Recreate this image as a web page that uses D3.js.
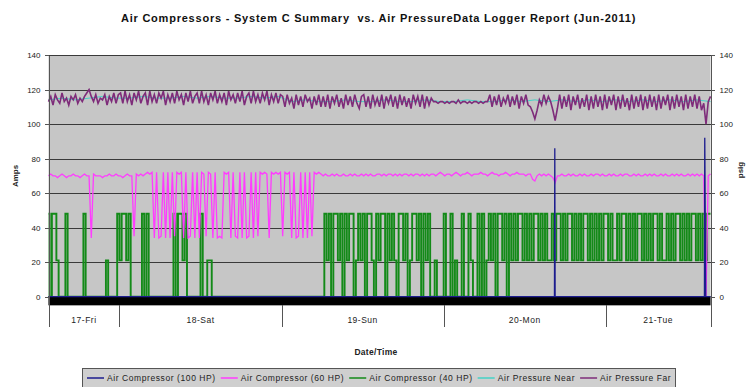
<!DOCTYPE html>
<html>
<head>
<meta charset="utf-8">
<script src="https://cdn.jsdelivr.net/npm/d3@7"></script>
<style>
  body { margin: 0; background: #fff; }
  svg { display: block; font-family: "Liberation Sans", Arial, sans-serif; }
</style>
</head>
<body>
<svg id="chart" width="747" height="387"></svg>
<script>
// ---- data ----
const chartTitle = 'Air Compressors - System C Summary  vs. Air PressureData Logger Report (Jun-2011)';
const seriesNames = ['Air Compressor (100 HP)', 'Air Compressor (60 HP)', 'Air Compressor (40 HP)', 'Air Pressure Near', 'Air Pressure Far'];
const seriesColors = ['#1c1c8e', '#ff3cff', '#138a18', '#45d2c6', '#7e2c7a'];
const yTicks = [0, 20, 40, 60, 80, 100, 120, 140];
const dayLabels = ['17-Fri', '18-Sat', '19-Sun', '20-Mon', '21-Tue'];
const dayBreaks = [new Date(2011, 5, 17, 13, 30), new Date(2011, 5, 18), new Date(2011, 5, 19),
  new Date(2011, 5, 20), new Date(2011, 5, 21), new Date(2011, 5, 21, 15, 30)];
const startTime = dayBreaks[0];
const endTime = dayBreaks[dayBreaks.length - 1];

// 100 HP: mostly off, two spikes (hours after start)
const hp100Hours = [0, 74.9, 74.95, 75.0, 97.1, 97.15, 97.3, 98];
const hp100Amps = [0, 0, 86, 0, 0, 92, 0, 0];

// 60 HP, every 20 min
const hp60Amps = [70, 71, 70, 70, 69, 70, 71, 70, 69, 70, 70, 71, 70, 70, 69, 70, 71, 70, 70,
  34,
  71, 70, 70, 70, 69, 70, 70, 71, 70, 70, 71, 70, 70, 69, 70, 71, 70, 70,
  35,
  71, 70, 71, 70, 71, 72, 71, 72,
  34, 72, 34, 35, 72, 34, 72, 34, 72, 35, 72, 71, 72, 34, 72, 34, 35, 72, 34, 72, 34, 72, 71, 35,
  72, 71, 34, 72, 34, 35, 34, 72, 71, 72, 34, 72, 35, 34, 72, 34, 72, 34, 35, 72, 34, 72, 35, 72,
  71, 72, 71, 34, 72, 71, 72, 71, 72, 35, 72, 71, 72, 34, 72, 34, 35, 72, 34, 72, 34, 72, 35, 72,
  71, 72,
  71, 70, 71, 70, 70, 71, 70, 71, 70, 70, 71, 70, 70, 71, 70, 71, 70, 70, 71, 70,
  71, 70, 71, 70, 70, 71, 71, 70, 71, 70, 71, 71, 70, 71, 70, 71, 70, 71, 71, 70,
  71, 70, 71, 71, 70, 71, 70, 71, 70, 71, 71, 70, 71, 72, 71, 70, 71, 71, 70, 71,
  72, 71, 70, 71, 71, 72, 71, 70, 71, 71, 71, 72, 71, 71, 70, 71, 72, 71, 71, 70,
  71, 71, 72, 71, 70, 71, 71, 72, 71, 71, 71, 70, 71, 71,
  68, 67, 70,
  71, 70, 71, 70, 71, 70,
  69, 66, 70,
  70, 71, 70, 70, 71, 70, 71, 70, 70, 71, 70, 71, 70, 70, 71, 70, 71, 71, 70, 71,
  70, 70, 71, 70, 71, 70, 70, 71, 70, 71, 71, 70, 70, 71, 70, 71, 70, 70, 71, 70,
  71, 70, 71, 70, 70, 71, 70, 71, 70, 70, 71, 70, 71, 70, 71, 70, 70, 71, 70, 71,
  70, 71, 70, 71,
  70, 0, 70, 71];

// 40 HP, every 20 min (0 = off, 21 = unloaded, 48 = loaded)
const hp40Amps = [48, 0, 48, 48, 21, 0,
  0, 0,
  48,
  0, 0, 0, 0, 0, 0, 0,
  48,
  0, 0, 0, 0, 0, 0, 0, 0, 0,
  21,
  0, 0, 0, 0,
  48, 21, 48, 48, 21, 48,
  0, 0, 0, 0, 0,
  48, 0, 48,
  0, 0, 0, 0, 0, 0, 0, 0, 0, 0, 0,
  48, 0, 48, 48, 21, 48, 0,
  0, 0, 0, 0, 0,
  48,
  0, 0, 21, 21, 0, 0,
  0, 0, 0, 0, 0, 0, 0, 0, 0, 0, 0, 0, 0, 0, 0, 0, 0, 0, 0, 0, 0, 0, 0, 0,
  0, 0, 0, 0, 0, 0, 0, 0, 0, 0, 0, 0, 0, 0, 0, 0, 0, 0, 0, 0, 0, 0, 0, 0,
  48, 21, 48, 0, 48, 48, 21, 48, 0, 48, 21, 48, 48, 0, 21, 48, 21, 48, 0, 48, 48, 21, 0, 48,
  21, 48, 48, 0, 48, 21, 48, 21, 0, 48, 48, 21, 48, 0, 21, 48, 48, 21, 48, 0, 48, 21, 48, 0,
  0, 21, 0, 0, 0,
  48, 0, 0, 48, 0, 21, 0, 0, 48, 0, 0, 48, 21, 0, 0, 48, 0, 48, 0, 21,
  48, 21, 48, 0, 48, 48, 21, 48, 0, 48, 21,
  48, 21, 48, 48, 21, 48, 21, 48, 21, 48, 48, 21, 48, 21, 48, 21, 21, 48, 21, 48,
  48, 21, 48, 21, 48, 48, 21, 48, 21, 48, 21, 48, 48, 21, 48, 21, 48, 21, 48, 21,
  48, 48, 21, 48, 21, 21, 48, 21, 48, 48, 21, 48, 21, 48, 21, 48, 48, 21, 48, 21,
  48, 21, 48, 48, 21, 48, 21, 21, 48, 21, 48, 21, 48, 48, 21, 48, 21, 48, 21, 48,
  48, 21, 48, 21, 48, 21, 48, 48];

// pressure near, every 2 h (psig)
const pressNear = [114, 115, 114, 115, 116, 115,
  115, 116, 115, 115, 116, 115, 116, 115, 115, 116, 115, 116,
  113, 114, 113, 113, 114, 113, 113, 114, 113, 113, 114, 113,
  113, 114, 113, 113, 114,
  113, 114, 113, 114, 113, 114, 113, 114,
  113, 114, 113, 114, 113, 114, 113];

// pressure far, every 20 min (psig)
const pressFar = [113, 116, 111, 117, 114, 112, 118, 113, 115, 111, 116, 114, 117, 112, 115, 113, 116, 118, 120, 116,
  113, 117, 112, 115, 114, 117, 111, 116, 113, 118, 112, 117,
  118, 112, 119, 113, 117, 111, 118, 114, 119, 112, 116, 118, 111, 119, 113, 117, 112, 118, 115, 119,
  111, 117, 113, 118, 112, 119, 114, 117, 111, 118, 113, 119, 112, 116, 118, 112, 119, 113, 117, 111,
  118, 114, 119, 112, 117, 113, 118, 111, 119, 114, 117, 112, 118, 113, 119, 111, 116, 118, 112, 119,
  113, 117, 112, 118, 114, 119, 111, 117, 113, 118, 112, 117,
  116, 110, 117, 112, 115, 109, 117, 111, 116, 110, 117, 113, 115, 109, 116, 111, 117, 110, 116,
  110, 117, 109, 116, 112, 117, 110, 115, 109, 117, 111, 116, 110, 117, 112, 109, 116, 117, 110, 116,
  109, 117, 111, 115, 110, 117, 109, 116, 112, 117, 110, 116, 109, 117, 111, 116, 110, 115, 109, 117,
  112, 116, 110, 117, 109, 116, 111, 115,
  113, 113, 112, 113, 113, 112, 113, 112, 113, 113, 112, 114, 112, 113, 113, 112, 113, 112, 113, 113,
  112, 113, 112, 113, 113,
  117, 110, 116, 111, 117, 110, 115, 112, 117, 110, 116, 111, 117, 109, 116, 112, 117, 111, 110,
  107, 103, 108,
  114, 111, 117, 112, 116, 113, 108,
  102, 109,
  117, 109, 116, 110, 117, 108, 116, 111, 117, 109, 115, 110, 117, 108, 116, 109, 117, 110, 116, 108,
  117, 109, 116, 111, 117, 108, 116, 109, 117, 110, 115, 108, 117, 109, 116, 110, 117, 108, 116, 109,
  117, 110, 116, 108, 117, 109, 116, 111, 117, 108, 116, 109, 117, 110, 116, 108, 117, 109, 116, 110,
  117, 109, 116, 108,
  112, 100, 113, 116];

// ---- layout ----
const plot = {left: 48.5, right: 710.5, top: 55, bottom: 305.3};
const font = '"Liberation Sans", Arial, sans-serif';

const svg = d3.select('#chart');

const x = d3.scaleTime().domain([startTime, endTime]).range([plot.left, plot.right]);
const y = d3.scaleLinear().domain([-5, 140]).range([plot.bottom, plot.top]);

const everyMinutes = step => (v, i) => ({t: d3.timeMinute.offset(startTime, i * step), v});

const line = d3.line()
  .x(d => x(d.t))
  .y(d => y(d.v));

const stepLine = d3.line()
  .curve(d3.curveStep)
  .x(d => x(d.t))
  .y(d => y(d.v));

// plot area
svg.append('rect')
  .attr('x', plot.left)
  .attr('y', plot.top)
  .attr('width', plot.right - plot.left)
  .attr('height', plot.bottom - plot.top)
  .attr('fill', '#c6c6c6');

// grid
svg.append('g')
  .selectAll('line')
  .data(yTicks.filter(d => d > 0))
  .join('line')
  .attr('x1', plot.left)
  .attr('x2', plot.right)
  .attr('y1', d => Math.round(y(d)) + 0.5)
  .attr('y2', d => Math.round(y(d)) + 0.5)
  .attr('stroke', '#3a3a3a')
  .attr('shape-rendering', 'crispEdges');

// series
svg.append('path')
  .datum(hp40Amps.map(everyMinutes(20)))
  .attr('fill', 'none')
  .attr('stroke', seriesColors[2])
  .attr('stroke-width', 1.9)
  .attr('d', stepLine);

svg.append('path')
  .datum(hp60Amps.map(everyMinutes(20)))
  .attr('fill', 'none')
  .attr('stroke', seriesColors[1])
  .attr('stroke-width', 1.3)
  .attr('d', line);

svg.append('path')
  .datum(pressNear.map(everyMinutes(120)))
  .attr('fill', 'none')
  .attr('stroke', seriesColors[3])
  .attr('stroke-width', 1)
  .attr('d', line);

svg.append('path')
  .datum(pressFar.map(everyMinutes(20)))
  .attr('fill', 'none')
  .attr('stroke', seriesColors[4])
  .attr('stroke-width', 1.6)
  .attr('d', line);

// thick black band along zero
svg.append('rect')
  .attr('x', plot.left)
  .attr('y', y(0) - 0.5)
  .attr('width', plot.right - plot.left)
  .attr('height', y(-5) - y(0) + 0.5)
  .attr('fill', '#000');

svg.append('path')
  .datum(hp100Hours.map((h, i) => ({t: new Date(+startTime + h * 3600e3), v: hp100Amps[i]})))
  .attr('fill', 'none')
  .attr('stroke', seriesColors[0])
  .attr('stroke-width', 1.3)
  .attr('d', line);

// axes
function styleAxis(g) {
  g.attr('font-family', font).attr('font-size', 8);
  g.selectAll('line, path').attr('stroke', '#555').attr('shape-rendering', 'crispEdges');
  g.selectAll('text').attr('fill', '#222');
}

svg.append('g')
  .attr('transform', `translate(${plot.left},0)`)
  .call(d3.axisLeft(y).tickValues(yTicks).tickSize(4).tickSizeOuter(0).tickPadding(4))
  .call(styleAxis);

svg.append('g')
  .attr('transform', `translate(${plot.right},0)`)
  .call(d3.axisRight(y).tickValues(yTicks).tickSize(4).tickSizeOuter(0).tickPadding(5))
  .call(styleAxis);

svg.append('g')
  .attr('transform', `translate(0,${plot.bottom})`)
  .call(d3.axisBottom(x).tickValues(dayBreaks).tickSize(22).tickFormat(''))
  .call(styleAxis)
  .call(g => g.select('.domain').remove());

svg.append('g')
  .selectAll('text')
  .data(dayLabels)
  .join('text')
  .attr('x', (d, i) => (x(dayBreaks[i]) + x(dayBreaks[i + 1])) / 2)
  .attr('y', 323)
  .attr('text-anchor', 'middle')
  .attr('font-size', 8.5)
  .attr('letter-spacing', 0.5)
  .attr('fill', '#222')
  .text(d => d);

// titles
svg.append('text')
  .attr('x', 378.5)
  .attr('y', 22)
  .attr('text-anchor', 'middle')
  .attr('font-size', 11)
  .attr('letter-spacing', 0.78)
  .attr('font-weight', 'bold')
  .attr('fill', '#111')
  .style('white-space', 'pre')
  .text(chartTitle);

svg.append('text')
  .attr('transform', 'translate(18,176) rotate(-90)')
  .attr('text-anchor', 'middle')
  .attr('font-size', 8)
  .attr('font-weight', 'bold')
  .attr('fill', '#222')
  .text('Amps');

svg.append('text')
  .attr('transform', 'translate(743,170) rotate(-90)')
  .attr('text-anchor', 'middle')
  .attr('font-size', 8)
  .attr('font-weight', 'bold')
  .attr('fill', '#222')
  .text('psig');

svg.append('text')
  .attr('x', 376)
  .attr('y', 355)
  .attr('text-anchor', 'middle')
  .attr('font-size', 8.5)
  .attr('letter-spacing', 0.3)
  .attr('font-weight', 'bold')
  .attr('fill', '#222')
  .text('Date/Time');

// legend
const legend = svg.append('g').attr('transform', 'translate(82.5,368.5)');
legend.append('rect')
  .attr('width', 593)
  .attr('height', 24)
  .attr('fill', '#cfcfcf')
  .attr('stroke', '#555');

let lx = 4.5;
seriesNames.forEach((name, k) => {
  legend.append('line')
    .attr('x1', lx).attr('x2', lx + 17)
    .attr('y1', 9.5).attr('y2', 9.5)
    .attr('stroke', seriesColors[k])
    .attr('stroke-width', 1.5);
  const t = legend.append('text')
    .attr('x', lx + 20)
    .attr('y', 12.5)
    .attr('font-size', 8.5)
    .attr('letter-spacing', 0.58)
    .attr('fill', '#222')
    .text(name);
  lx += 20 + t.node().getComputedTextLength() + 5;
});
</script>
</body>
</html>
